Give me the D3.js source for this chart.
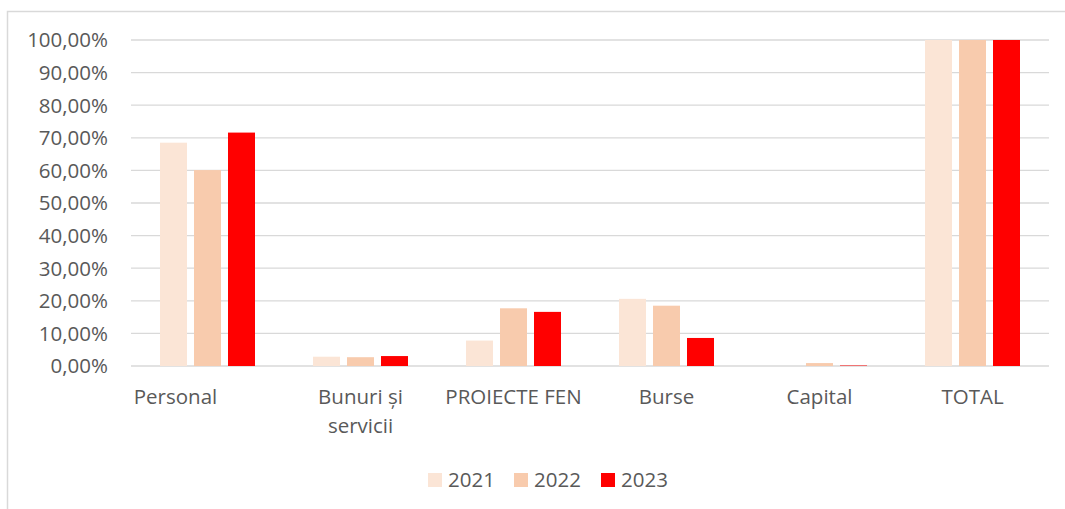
<!DOCTYPE html>
<html>
<head>
<meta charset="utf-8">
<script src="https://cdn.jsdelivr.net/npm/d3@7"></script>
<style>
  body { margin: 0; background: #fff; }
  text { font-family: "Open Sans", sans-serif; fill: #595959; }
</style>
</head>
<body>
<svg id="chart" width="1065" height="509"></svg>
<script>
// categories and series (share of total, %)
var categories = [["Personal"], ["Bunuri și", "servicii"], ["PROIECTE FEN"], ["Burse"], ["Capital"], ["TOTAL"]];
var years = ["2021", "2022", "2023"];
var values2021 = [68.5, 2.85, 7.8, 20.6, 0, 100];
var values2022 = [60.1, 2.7, 17.7, 18.5, 0.9, 100];
var values2023 = [71.6, 3.05, 16.6, 8.6, 0.15, 100];
var yTicks = [0, 10, 20, 30, 40, 50, 60, 70, 80, 90, 100];
var colors = ["#FBE5D6", "#F8CBAD", "#FF0000"];

var series = [values2021, values2022, values2023];

var svg = d3.select("#chart");

// chart area border
svg.append("rect")
  .attr("x", 7.5).attr("y", 11.5)
  .attr("width", 1100).attr("height", 600)
  .attr("fill", "none")
  .attr("stroke", "#D9D9D9")
  .attr("stroke-width", 1.5);

var plotLeft = 131, plotRight = 1049, plotTop = 40, plotBottom = 366;

var x = d3.scaleBand()
  .domain(d3.range(categories.length))
  .range([plotLeft, plotRight]);

var xInner = d3.scaleBand()
  .domain(years)
  .range([29, 124])
  .paddingInner(7 / 34);

var y = d3.scaleLinear()
  .domain([0, 100])
  .range([plotBottom, plotTop]);

// gridlines
svg.append("g")
  .selectAll("line")
  .data(yTicks)
  .enter().append("line")
  .attr("x1", plotLeft).attr("x2", plotRight)
  .attr("y1", d => y(d)).attr("y2", d => y(d))
  .attr("stroke", "#D9D9D9")
  .attr("stroke-width", 1.3);

// y labels
var fmt = d3.format(".2f");
svg.append("g")
  .selectAll("text")
  .data(yTicks)
  .enter().append("text")
  .attr("x", 108)
  .attr("y", d => y(d))
  .attr("dy", "0.36em")
  .attr("text-anchor", "end")
  .style("font-size", "20.5px")
  .text(d => fmt(d).replace(".", ",") + "%");

// bars
years.forEach(function(yr, si) {
  svg.append("g")
    .selectAll("rect")
    .data(series[si])
    .enter().append("rect")
    .attr("x", (d, i) => x(i) + xInner(yr))
    .attr("y", d => y(d))
    .attr("width", xInner.bandwidth())
    .attr("height", d => plotBottom - y(d))
    .attr("fill", colors[si]);
});

// category labels
var labels = svg.append("g")
  .selectAll("text")
  .data(categories)
  .enter().append("text")
  .attr("x", (d, i) => x(i) + x.bandwidth() / 2 - (i === 0 ? 32 : 0))
  .attr("y", 404)
  .attr("text-anchor", "middle")
  .style("font-size", "20.5px");

labels.selectAll("tspan")
  .data(d => d)
  .enter().append("tspan")
  .attr("x", function() { return d3.select(this.parentNode).attr("x"); })
  .attr("dy", (d, i) => i === 0 ? 0 : 29)
  .text(d => d);

// legend
var legendX = [428, 514, 601];
var legend = svg.append("g")
  .selectAll("g")
  .data(years)
  .enter().append("g")
  .attr("transform", (d, i) => "translate(" + legendX[i] + ",473)");

legend.append("rect")
  .attr("width", 14).attr("height", 14)
  .attr("fill", (d, i) => colors[i]);

legend.append("text")
  .attr("x", 20)
  .attr("y", 14)
  .style("font-size", "20.5px")
  .text(d => d);
</script>
</body>
</html>
